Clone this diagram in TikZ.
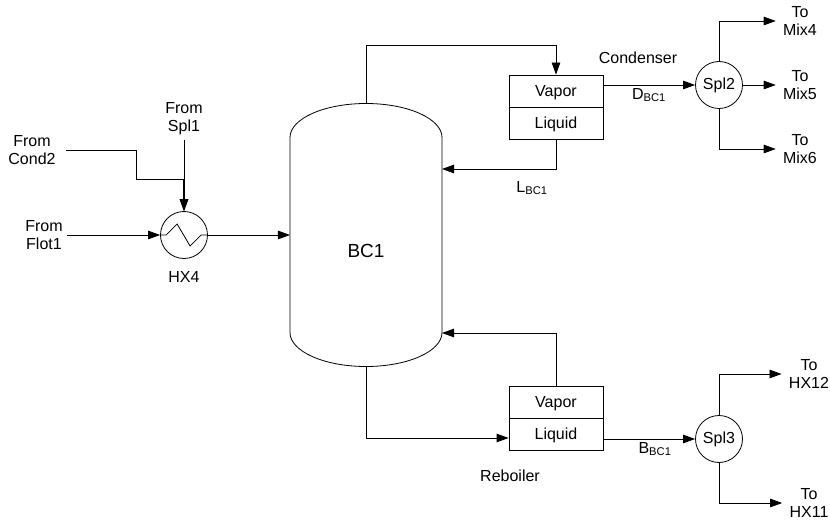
\documentclass[tikz,border=0pt]{standalone}
\usepackage{fontspec}
\setmainfont{Liberation Sans}
\usetikzlibrary{shapes.geometric, arrows.meta}
\tikzstyle{column} = [rectangle, minimum width=152pt, minimum height=263pt, inner sep=0pt, outer sep=0pt]
\tikzstyle{drum} = [rectangle, minimum width=94pt, minimum height=32pt, inner sep=0pt, text height=11.5pt, text depth=0pt, draw=black]
\tikzstyle{unit} = [circle, minimum size=47pt, inner sep=0pt, draw=black]
\tikzstyle{fromtag} = [align=center, inner xsep=4pt, inner ysep=5pt]
\tikzstyle{totag} = [align=center, inner xsep=7pt, inner ysep=2pt]
\tikzstyle{arrow} = [->,>={Triangle[length=12pt,width=8.5pt]}]

\begin{document}
\begin{tikzpicture}[node distance=100pt, line width=0.8pt, font=\fontsize{16}{18}\selectfont]
\useasboundingbox (-366pt,235pt) rectangle (464pt,-290pt);
\node (bc1) [column] {};
\node (bc1name) [yshift=-16pt] {\fontsize{19}{21}\selectfont BC1};
\node (hx4) [unit, left of = bc1, xshift = -82pt] {};
\node (hx4name) [below of = hx4, yshift = 58pt] {HX4};
\node (flot1) [fromtag, left of = hx4, xshift = -40pt] {From\\Flot1};
\node (cond2) [fromtag, left of = hx4, xshift = -52pt, yshift = 85pt] {From\\Cond2};
\node (spl1) [fromtag, above of = hx4, yshift = 16pt, inner ysep=4pt] {From\\Spl1};
\coordinate (merge) at ([yshift=32pt]hx4.north);
\node (condvap) [drum, right of = bc1, xshift = 90pt, yshift = 144pt] {Vapor};
\node (condliq) [drum, below of = condvap, yshift = 68pt] {Liquid};
\node (condname) [above of = condvap, xshift = 82pt, yshift = -67pt] {Condenser};
\node (rebvap) [drum, below of = bc1, xshift = 190pt, yshift = -67pt] {Vapor};
\node (rebliq) [drum, below of = rebvap, yshift = 68pt] {Liquid};
\node (rebname) [below of = rebliq, xshift = -46pt, yshift = 58pt] {Reboiler};
\node (spl2) [unit, right of = condvap, xshift = 63pt, yshift = 6pt] {Spl2};
\node (spl3) [unit, right of = rebliq, xshift = 63pt, yshift = -5pt] {Spl3};
\node (mix4) [totag, right of = spl2, xshift = -19pt, yshift = 64pt] {To\\Mix4};
\node (mix5) [totag, right of = spl2, xshift = -19pt] {To\\Mix5};
\node (mix6) [totag, right of = spl2, xshift = -19pt, yshift = -64pt] {To\\Mix6};
\node (hx12) [totag, right of = spl3, xshift = -10pt, yshift = 65pt] {To\\HX12};
\node (hx11) [totag, right of = spl3, xshift = -10pt, yshift = -64pt] {To\\HX11};
\node (lbc1) [below of = condliq, xshift = -24pt, yshift = 35pt] {L\textsubscript{BC1}};
\node (dbc1) [right of = condvap, xshift = -7pt, yshift = -4pt] {D\textsubscript{BC1}};
\node (bbc1) [right of = rebliq, xshift = -1pt, yshift = -15pt] {B\textsubscript{BC1}};
\draw ([yshift=-34pt]bc1.north west) arc[start angle=180, end angle=0, x radius=76pt, y radius=34pt] -- ([yshift=34pt]bc1.south east) arc[start angle=0, end angle=-180, x radius=76pt, y radius=34pt] -- cycle;
\draw (hx4.west) -- ++(6pt,0pt) -- ++(11pt,11pt) -- ++(13pt,-22pt) -- ++(11pt,11pt) -- (hx4.east);
\draw [arrow] (flot1) -- (hx4);
\draw [arrow] (hx4) -- (bc1);
\draw ([xshift=6pt]cond2.east) -- ++(70pt,0pt) |- (merge);
\draw [arrow] (spl1) -- (hx4);
\draw [arrow, line width=1.5pt] (merge) -- (hx4);
\draw [arrow] (bc1.north) -- ++(0pt,58.5pt) -| (condvap.north);
\draw [arrow] (condliq.south) |- ([yshift=66pt]bc1.east);
\draw [arrow] ([yshift=6pt]condvap.east) -- (spl2);
\draw [arrow] (spl2.north) |- (mix4);
\draw [arrow] (spl2) -- (mix5);
\draw [arrow] (spl2.south) |- (mix6);
\draw [arrow] (rebvap.north) |- ([yshift=-98pt]bc1.east);
\draw [arrow] (bc1.south) |- ([yshift=-4pt]rebliq.west);
\draw [arrow] ([yshift=-5pt]rebliq.east) -- (spl3);
\draw [arrow] (spl3.north) |- (hx12);
\draw [arrow] (spl3.south) |- (hx11);
\end{tikzpicture}
\end{document}
